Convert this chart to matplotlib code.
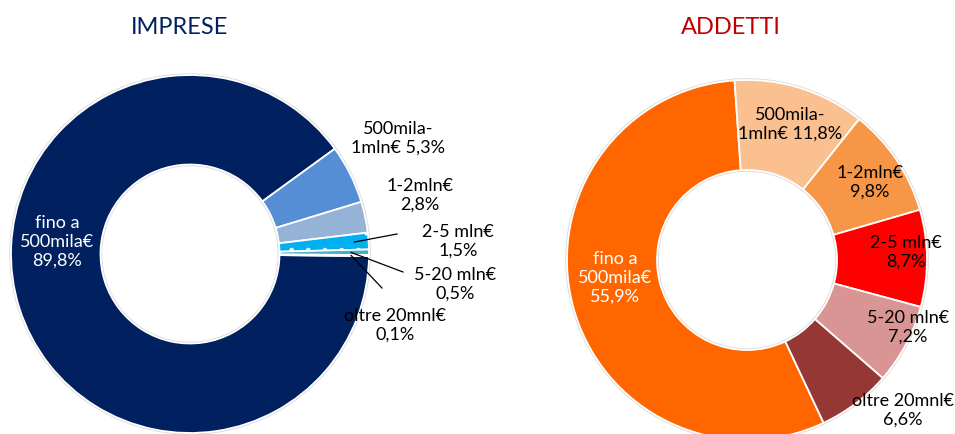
import matplotlib.pyplot as plt
import numpy as np

plt.rcParams["font.family"] = ["Lato", "DejaVu Sans"]
plt.rcParams["hatch.color"] = "white"
plt.rcParams["hatch.linewidth"] = 0.8

# Revenue classes, shares of firms (imprese) and of employees (addetti)
CLASSES = ["fino a\n500mila€", "500mila-\n1mln€", "1-2mln€", "2-5 mln€",
           "5-20 mln€", "oltre 20mnl€"]
IMPRESE = [89.8, 5.3, 2.8, 1.5, 0.5, 0.1]
ADDETTI = [55.9, 11.8, 9.8, 8.7, 7.2, 6.6]

# separator between class name and percentage in each label
LABEL_SEP = ["\n", " ", "\n", "\n", "\n", "\n"]

IMPRESE_COLOURS = ["#002060", "#558ED5", "#95B3D7", "#00B0F0", "#4BACC6", "#2E7F99"]
ADDETTI_COLOURS = ["#FF6600", "#FAC090", "#F79646", "#FF0000", "#D99594", "#953735"]

W, H = 955, 435
FS = 13


def pct(v):
    return f"{v:.1f}%".replace(".", ",")


def label_text(i, values):
    return CLASSES[i] + LABEL_SEP[i] + pct(values[i])


def py(y):
    # pixel row (from top) -> data y
    return H - y


fig = plt.figure(figsize=(W / 100, H / 100), dpi=100)
ax = fig.add_axes([0, 0, 1, 1])


def donut(values, colours, centre, radius, start, explode):
    # soft grey halo under the slices, then the slices with white borders
    ax.pie(values, colors=["none"] * len(values), startangle=start,
           counterclock=False, center=centre, radius=radius, explode=explode,
           wedgeprops=dict(width=radius * 0.5, edgecolor="#DADADA", linewidth=2.5),
           frame=True)
    wedges, _ = ax.pie(values, colors=colours, startangle=start,
                       counterclock=False, center=centre, radius=radius,
                       explode=explode,
                       wedgeprops=dict(width=radius * 0.5, edgecolor="white",
                                       linewidth=1.3),
                       frame=True)
    return wedges


def leader(wedge, end, frac=0.82):
    ang = np.deg2rad((wedge.theta1 + wedge.theta2) / 2)
    cx, cy = wedge.center
    x0 = cx + wedge.r * frac * np.cos(ang)
    y0 = cy + wedge.r * frac * np.sin(ang)
    ax.plot([x0, end[0]], [y0, py(end[1])], color="black", linewidth=0.9)


# ---- IMPRESE donut -------------------------------------------------------
w1 = donut(IMPRESE, IMPRESE_COLOURS, (190, py(255)), 179, -0.7,
           [0, 0.02, 0.02, 0.02, 0.02, 0.02])
w1[3].set_hatch(".")

ax.text(57, py(242), label_text(0, IMPRESE), color="white", fontsize=FS,
        ha="center", va="center")
ax.text(398, py(138), label_text(1, IMPRESE), fontsize=FS, ha="center", va="center")
ax.text(420, py(195), label_text(2, IMPRESE), fontsize=FS, ha="center", va="center")
ax.text(458, py(241), label_text(3, IMPRESE), fontsize=FS, ha="center", va="center")
ax.text(455, py(284), label_text(4, IMPRESE), fontsize=FS, ha="center", va="center")
ax.text(395, py(325), label_text(5, IMPRESE), fontsize=FS, ha="center", va="center")

leader(w1[3], (397, 235), 0.92)
leader(w1[4], (403, 273), 0.9)
leader(w1[5], (382, 289), 0.9)

ax.text(180, py(27), "IMPRESE", color="#002060", fontsize=17, ha="center", va="center")

# ---- ADDETTI donut -------------------------------------------------------
w2 = donut(ADDETTI, ADDETTI_COLOURS, (747, py(261)), 180, -64.8,
           [0.025, 0, 0, 0, 0, 0])

ax.text(615, py(278), label_text(0, ADDETTI), color="white", fontsize=FS,
        ha="center", va="center")
ax.text(790, py(124), label_text(1, ADDETTI), fontsize=FS, ha="center", va="center")
ax.text(870, py(182), label_text(2, ADDETTI), fontsize=FS, ha="center", va="center")
ax.text(906, py(252), label_text(3, ADDETTI), fontsize=FS, ha="center", va="center")
ax.text(908, py(327), label_text(4, ADDETTI), fontsize=FS, ha="center", va="center")
ax.text(903, py(410), label_text(5, ADDETTI), fontsize=FS, ha="center", va="center")

ax.text(731, py(27), "ADDETTI", color="#C00000", fontsize=17, ha="center", va="center")

ax.set_xlim(0, W)
ax.set_ylim(0, H)
ax.set_aspect("auto")
ax.axis("off")

fig.savefig("out.png", dpi=100)
